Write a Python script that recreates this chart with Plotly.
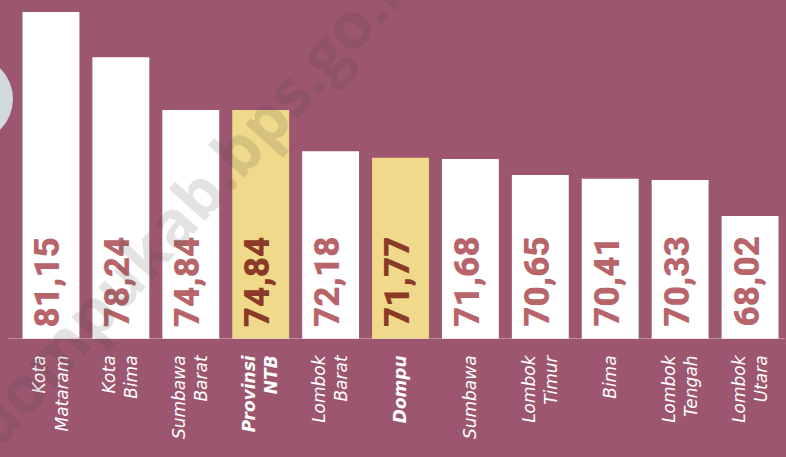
import plotly.graph_objects as go

CATEGORIES = ["Kota Mataram", "Kota Bima", "Sumbawa Barat", "Provinsi NTB", "Lombok Barat",
              "Dompu", "Sumbawa", "Lombok Timur", "Bima", "Lombok Tengah", "Lombok Utara"]
TICK_LABELS = ["Kota<br>Mataram", "Kota<br>Bima", "Sumbawa<br>Barat", "<b>Provinsi</b><br><b>NTB</b>",
               "Lombok<br>Barat", "<b>Dompu</b>", "Sumbawa", "Lombok<br>Timur", "Bima",
               "Lombok<br>Tengah", "Lombok<br>Utara"]
VALUES = [81.15, 78.24, 74.84, 74.84, 72.18, 71.77, 71.68, 70.65, 70.41, 70.33, 68.02]
HIGHLIGHT = ["Provinsi NTB", "Dompu"]

BG = "#9c566f"
BASE = 60.1

bar_colors = ["#f0d98a" if c in HIGHLIGHT else "#ffffff" for c in CATEGORIES]
text_colors = ["#8c3a28" if c in HIGHLIGHT else "#b7656a" for c in CATEGORIES]

fig = go.Figure()
fig.add_trace(go.Bar(
    x=CATEGORIES,
    y=[v - BASE for v in VALUES],
    base=BASE,
    marker=dict(color=bar_colors, line=dict(width=0)),
    hoverinfo="skip",
))

# value labels, rotated, sitting at the foot of each bar
for cat, val, col in zip(CATEGORIES, VALUES, text_colors):
    fig.add_annotation(
        x=cat, y=BASE, xref="x", yref="y",
        text=f"{val:.2f}".replace(".", ","),
        textangle=-90, showarrow=False,
        xanchor="center", yanchor="bottom", yshift=10, xshift=-3,
        font=dict(family="Roboto", size=35, color=col, weight=900),
    )

# white base strip
fig.add_shape(
    type="rect", xref="paper", yref="y",
    x0=-0.01, x1=1.0,
    ysizemode="pixel", yanchor=BASE, y0=0, y1=-11,
    fillcolor="#ffffff", line=dict(color="#dcc4cf", width=1),
    layer="above",
)

# grey blob at the left edge
fig.add_shape(
    type="circle", xref="paper", yref="paper",
    xsizemode="pixel", xanchor=0, x0=-89, x1=-3,
    ysizemode="pixel", yanchor=1, y0=-130, y1=-44,
    fillcolor="#d1d9dd", line=dict(width=0), layer="below",
)

# watermark
fig.add_annotation(
    x=185 / 786, y=1 - 254 / 457, xref="paper", yref="paper",
    text="<b>dompukab.bps.go.id</b>", showarrow=False, textangle=-48,
    xanchor="center", yanchor="middle",
    font=dict(family="Open Sans", size=64, color="rgba(68,68,68,0.15)"),
)

fig.update_layout(
    width=786, height=457,
    paper_bgcolor=BG, plot_bgcolor=BG,
    margin=dict(l=15.5, r=0.5, t=12, b=118),
    bargap=0.186,
    showlegend=False,
    hovermode=False,
    xaxis=dict(
        tickmode="array", tickvals=CATEGORIES, ticktext=TICK_LABELS,
        tickangle=-90, showgrid=False, zeroline=False, showline=False,
        ticks="", ticklabelstandoff=12,
        tickfont=dict(family="DejaVu Sans", size=17, color="#ffffff", style="italic"),
        fixedrange=True,
    ),
    yaxis=dict(range=[BASE, 81.15], visible=False, fixedrange=True),
)

fig.write_html("out.html", config={"displayModeBar": False},
               post_script="document.body.style.margin='0';")
